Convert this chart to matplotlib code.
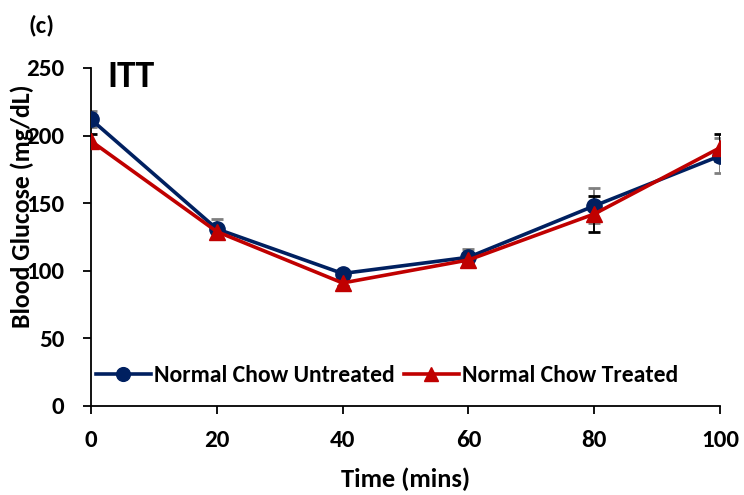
import matplotlib
matplotlib.use("Agg")
import matplotlib.pyplot as plt
from matplotlib import font_manager

names = {f.name for f in font_manager.fontManager.ttflist}
fam = [n for n in ['Carlito', 'Lato', 'DejaVu Sans'] if n in names]
plt.rcParams['font.family'] = fam

time = [0, 20, 40, 60, 80, 100]
untreated = [212, 131, 98, 110, 148, 185]
untreated_err = [6, 7, 2, 6, 13, 13]
treated = [196, 129, 91, 108, 142, 191]
treated_err = [5, 4, 2, 3, 13, 10]
xticks = [0, 20, 40, 60, 80, 100]
yticks = [0, 50, 100, 150, 200, 250]

W, H = 744, 495
fig = plt.figure(figsize=(W / 100, H / 100), dpi=100)
ax = fig.add_axes([91 / W, 1 - 406 / H, 629 / W, 338 / H])

ax.errorbar(time, untreated, yerr=untreated_err, fmt='none', ecolor='#7f7f7f',
            elinewidth=1.4, capsize=4, capthick=2, zorder=2)
ax.errorbar(time, treated, yerr=treated_err, fmt='none', ecolor='black',
            elinewidth=1.4, capsize=4, capthick=2, zorder=2)
ax.plot(time, untreated, color='#002060', lw=2.6, marker='o', ms=11,
        label='Normal Chow Untreated', zorder=3)
ax.plot(time, treated, color='#C00000', lw=2.6, marker='^', ms=11,
        label='Normal Chow Treated', zorder=4)

ax.set_xlim(0, 100)
ax.set_ylim(0, 250)
ax.set_xticks(xticks)
ax.set_yticks(yticks)
ax.spines['top'].set_visible(False)
ax.spines['right'].set_visible(False)
for s in ['left', 'bottom']:
    ax.spines[s].set_linewidth(1.3)
ax.tick_params(direction='out', length=6, width=1.3, labelsize=18)
ax.tick_params(axis='x', pad=11)
ax.tick_params(axis='y', pad=13)
for lab in ax.get_xticklabels() + ax.get_yticklabels():
    lab.set_fontweight('bold')
ax.set_xlabel('Time (mins)', fontsize=19, fontweight='bold', labelpad=12)
ax.set_ylabel('Blood Glucose (mg/dL)', fontsize=18.5, fontweight='bold')
ax.yaxis.set_label_coords(-0.091, 0.59)
for sp in ax.spines.values():
    sp.set_clip_on(False)

fig.text(107 / W, 1 - 87 / H, 'ITT', fontsize=27, fontweight='bold',
         va='baseline', ha='left')
fig.text(28 / W, 1 - 25 / H, '(c)', fontsize=18, fontweight='bold', va='center', ha='left')

leg = ax.legend(loc='center', bbox_to_anchor=(0.471, 0.09), ncol=2, frameon=False,
                prop={'weight': 'bold', 'size': 17}, handlelength=2.3, columnspacing=0.4,
                handletextpad=0.15, borderaxespad=0, borderpad=0, markerscale=0.9)

fig.savefig('out.png', dpi=100)
